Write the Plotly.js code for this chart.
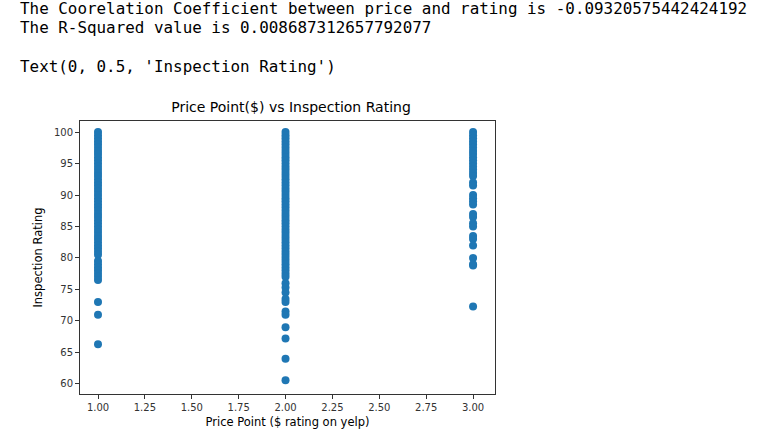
<!DOCTYPE html>
<html>
<head>
<script src="https://cdn.plot.ly/plotly-3.0.1.min.js"></script>
<style>body{margin:0;background:#fff}</style>
</head>
<body>
<div id="chart" style="width:783px;height:439px"></div>
<script>
// ratings, one list per price point
var price1 = [100, 99.5, 99, 98.5, 98, 97.5, 97, 96.5, 96, 95.5, 95, 94.5, 94, 93.5, 93, 92.5, 92, 91.5, 91, 90.5, 90, 89.5, 89, 88.5, 88, 87.5, 87, 86.5, 86, 85.5, 85, 84.5, 84, 83.5, 83, 82.5, 82, 81.5, 81, 80.5, 79.5, 79, 78.5, 78, 77.5, 77, 76.5, 73, 71, 66.3];
var price2 = [100, 99.5, 99, 98.5, 98, 97.5, 97, 96.5, 96, 95.5, 95, 94.5, 94, 93.5, 93, 92.5, 92, 91.5, 91, 90.5, 90, 89.5, 89, 88.5, 88, 87.5, 87, 86.5, 86, 85.5, 85, 84.5, 84, 83.5, 83, 82.5, 82, 81.5, 81, 80.5, 80, 79.5, 79, 78.5, 78, 77.5, 77, 76, 75.3, 74.5, 73.5, 73, 71.5, 71, 69, 67.2, 64, 60.6];
var price3 = [100, 99.5, 99, 98.5, 98, 97.5, 97, 96.5, 96, 95.5, 95, 94.5, 94, 93.5, 93, 92, 91.5, 90, 89.5, 89, 88.5, 87, 86.5, 85.5, 85, 83.5, 83, 82, 80, 79, 78.8, 72.3];

var xs = [], ys = [];
[[1, price1], [2, price2], [3, price3]].forEach(function (g) {
    g[1].forEach(function (v) { xs.push(g[0]); ys.push(v); });
});

var xTicks = [1, 1.25, 1.5, 1.75, 2, 2.25, 2.5, 2.75, 3];
var yTicks = [60, 65, 70, 75, 80, 85, 90, 95, 100];

var mono = { family: 'DejaVu Sans Mono', size: 15.9, color: '#000' };
var outText = [
    { text: 'The Coorelation Coefficient between price and rating is -0.09320575442424192', y: 8 },
    { text: 'The R-Squared value is 0.008687312657792077', y: 28 },
    { text: "Text(0, 0.5, 'Inspection Rating')", y: 66 }
];

Plotly.newPlot('chart', [{
    x: xs,
    y: ys,
    type: 'scatter',
    mode: 'markers',
    marker: { color: '#1f77b4', size: 8 },
    hoverinfo: 'skip'
}], {
    width: 783, height: 439,
    margin: { l: 80, r: 288, t: 121, b: 45 },
    paper_bgcolor: '#fff', plot_bgcolor: '#fff',
    showlegend: false,
    font: { family: 'DejaVu Sans', size: 10, color: '#333' },
    title: {
        text: 'Price Point($) vs Inspection Rating',
        font: { family: 'DejaVu Sans', size: 14, color: '#000' },
        x: 0.3717, xanchor: 'center', y: 0.755, yanchor: 'middle'
    },
    xaxis: {
        range: [0.904, 3.117], tickvals: xTicks,
        ticktext: xTicks.map(function (t) { return t.toFixed(2); }),
        showgrid: false, zeroline: false, showline: true, mirror: true,
        linecolor: '#333', linewidth: 1, ticks: 'outside', ticklen: 4, tickcolor: '#333',
        title: { text: 'Price Point ($ rating on yelp)', font: { size: 11.5, color: '#000' }, standoff: 5 }
    },
    yaxis: {
        range: [58.4, 101.75], tickvals: yTicks,
        showgrid: false, zeroline: false, showline: true, mirror: true,
        linecolor: '#333', linewidth: 1, ticks: 'outside', ticklen: 4, tickcolor: '#333',
        title: { text: 'Inspection Rating', font: { size: 11.5, color: '#000' }, standoff: 8 }
    },
    annotations: outText.map(function (a) {
        return {
            text: a.text, xref: 'paper', yref: 'paper', showarrow: false,
            x: -80 / 415, xanchor: 'left', xshift: 18,
            y: 1 + (121 - a.y) / 273, yanchor: 'middle', font: mono
        };
    })
}, { displayModeBar: false });
</script>
</body>
</html>
